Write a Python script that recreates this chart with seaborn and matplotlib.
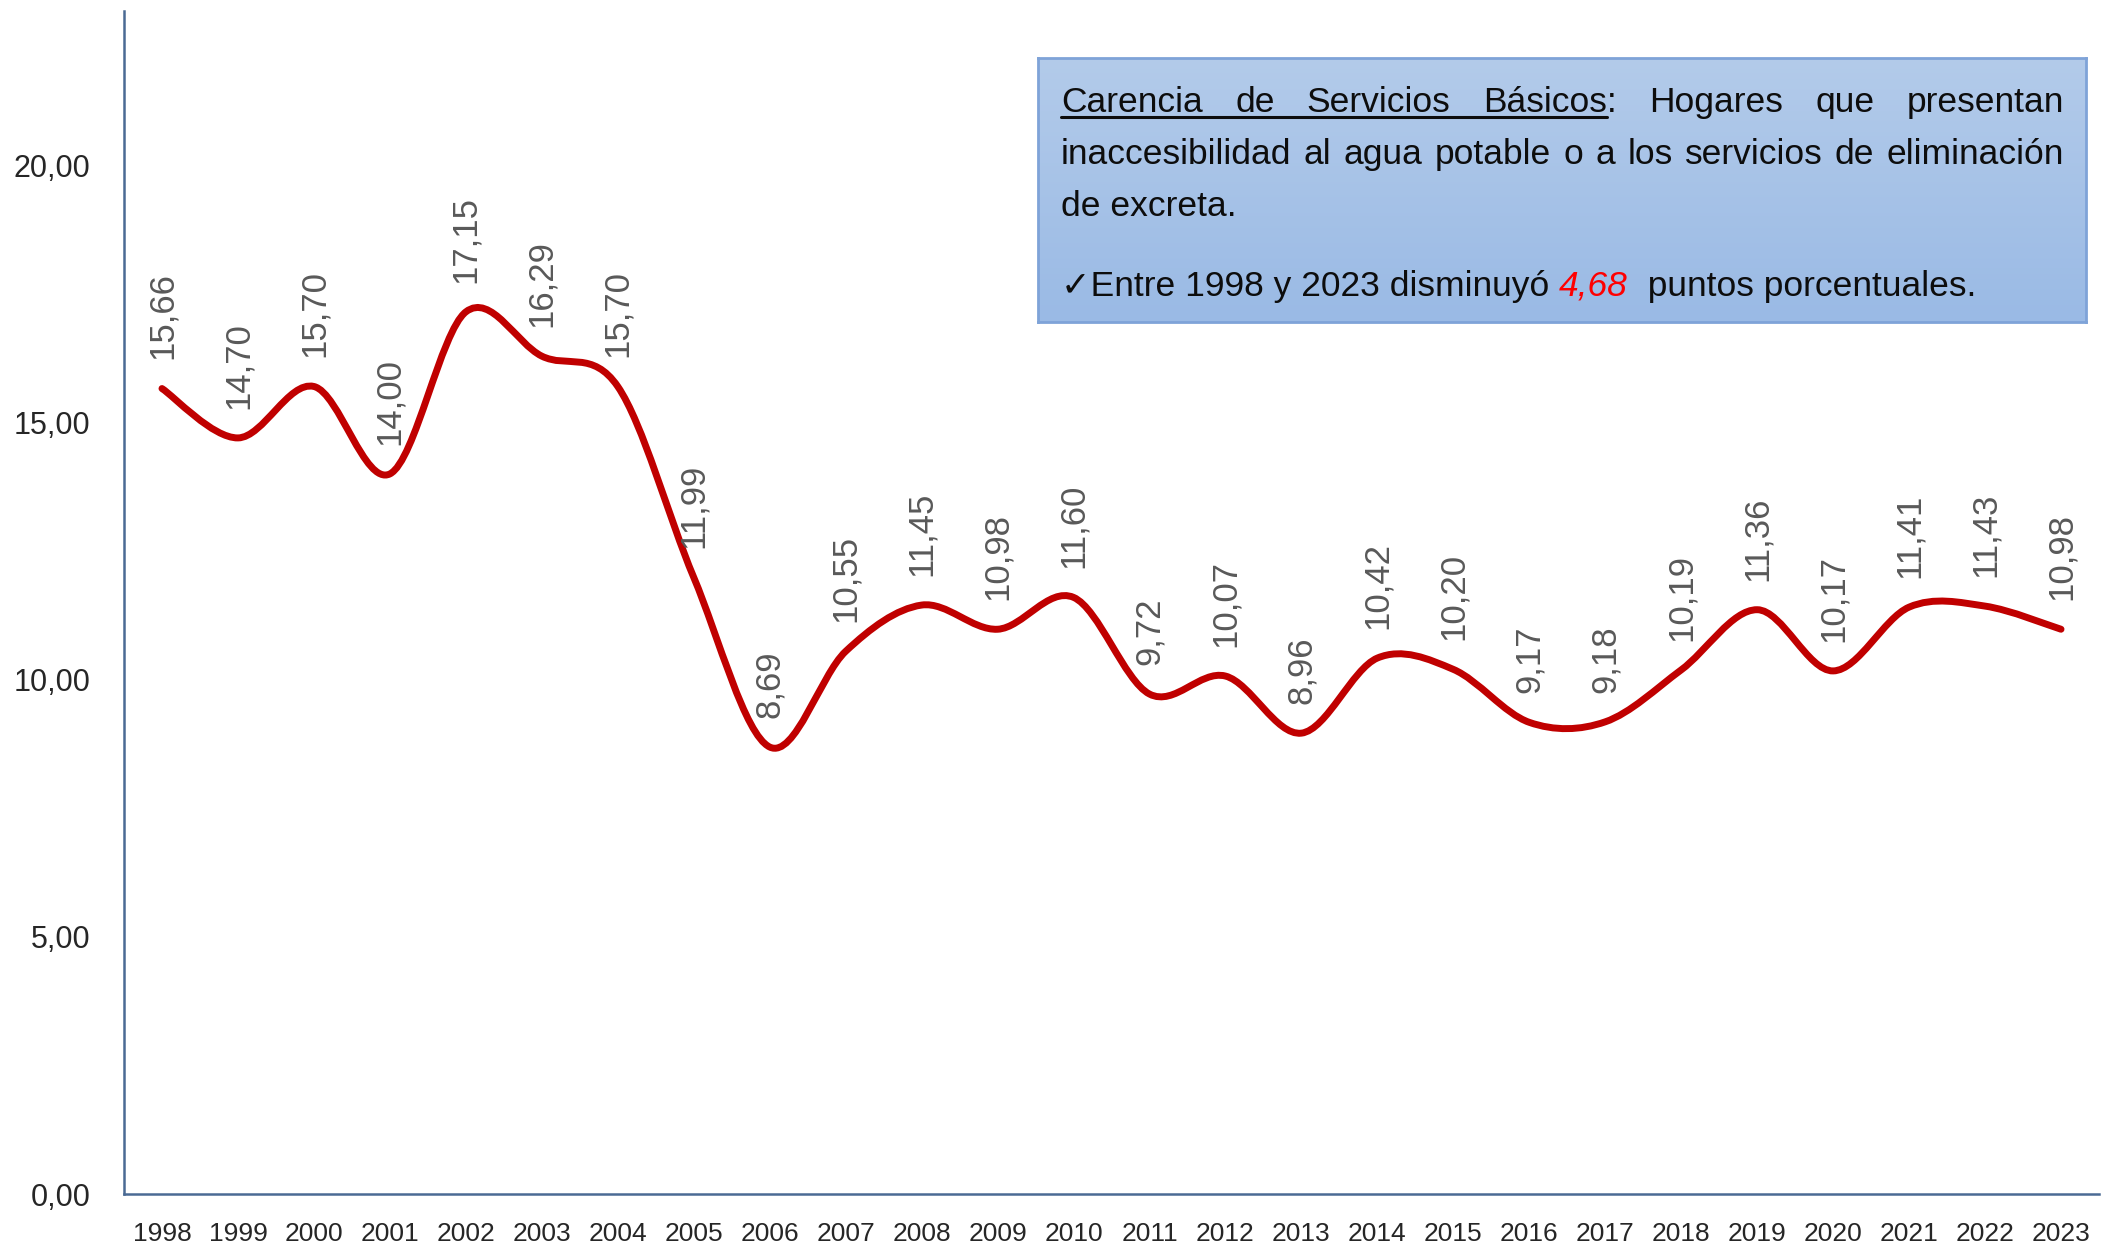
import numpy as np
import pandas as pd
import seaborn as sns
import matplotlib.pyplot as plt
from matplotlib.path import Path
from matplotlib.patches import PathPatch

years = ['1998', '1999', '2000', '2001', '2002', '2003', '2004', '2005', '2006',
         '2007', '2008', '2009', '2010', '2011', '2012', '2013', '2014', '2015',
         '2016', '2017', '2018', '2019', '2020', '2021', '2022', '2023']
values = [15.66, 14.70, 15.70, 14.00, 17.15, 16.29, 15.70, 11.99, 8.69, 10.55,
          11.45, 10.98, 11.60, 9.72, 10.07, 8.96, 10.42, 10.20, 9.17, 9.18,
          10.19, 11.36, 10.17, 11.41, 11.43, 10.98]
y_ticks = [0, 5, 10, 15, 20]
drop = '4,68'

sns.set_theme(style='white')
plt.rcParams['font.family'] = ['Liberation Sans', 'DejaVu Sans']

W, H = 2112, 1250
fig = plt.figure(figsize=(W / 100, H / 100), dpi=100)
ax = fig.add_axes([124 / W, 1 - 1194 / H, (2099 - 124) / W, (1194 - 11) / H])

df = pd.DataFrame({'year': years, 'value': values})
sns.lineplot(data=df, x='year', y='value', ax=ax, color='#C00000', linewidth=4)

# smooth the line like Excel does (bezier through each point)
line = ax.lines[0]
pts = line.get_xydata()
line.set_visible(False)
n = len(pts)
verts = [pts[0]]
codes = [Path.MOVETO]
for i in range(n - 1):
    p0 = pts[i - 1] if i > 0 else pts[i]
    p1 = pts[i]
    p2 = pts[i + 1]
    p3 = pts[i + 2] if i + 2 < n else pts[i + 1]
    verts += [p1 + (p2 - p0) / 6, p2 - (p3 - p1) / 6, p2]
    codes += [Path.CURVE4] * 3
ax.add_patch(PathPatch(Path(verts, codes), facecolor='none', edgecolor='#C00000',
                       lw=5, capstyle='round', joinstyle='round'))

for i, v in enumerate(values):
    ax.annotate(f'{v:.2f}'.replace('.', ','), (i, v), xytext=(0, 21),
                textcoords='offset points', rotation=90, ha='center', va='bottom',
                fontsize=25, color='#595959')

ax.set_xlim(-0.5, len(years) - 0.5)
ax.set_ylim(0, 23.0)
ax.set_yticks(y_ticks)
ax.set_yticklabels([f'{t:.2f}'.replace('.', ',') for t in y_ticks],
                   fontsize=22, color='#262626')
ax.set_xticks(range(len(years)))
ax.set_xticklabels(years, fontsize=19, color='#262626')
ax.tick_params(axis='y', length=0, pad=24)
ax.tick_params(axis='x', length=0, pad=20)
ax.set_xlabel('')
ax.set_ylabel('')
for side in ['top', 'right']:
    ax.spines[side].set_visible(False)
for side in ['left', 'bottom']:
    ax.spines[side].set_color('#4A6A94')
    ax.spines[side].set_linewidth(1.8)

# text box with a soft blue gradient
bx = fig.add_axes([1038 / W, 1 - 322 / H, 1048 / W, 264 / H])
top_c = np.array([179, 203, 234]) / 255
bot_c = np.array([154, 186, 229]) / 255
grad = np.linspace(0, 1, 100)[:, None, None]
img = top_c * (1 - grad) + bot_c * grad
bx.imshow(img, aspect='auto', extent=[0, 1, 0, 1])
bx.set_xticks([])
bx.set_yticks([])
for s in bx.spines.values():
    s.set_color('#7FA3D8')
    s.set_linewidth(2)

renderer = fig.canvas.get_renderer()
fs = 25.5
x_left, x_right = 1061, 2064


def place(words, base, justify=True, **kw):
    texts = [fig.text(0, 1 - base / H, w, ha='left', va='baseline', fontsize=fs,
                      color='#0D0D0D', **kw) for w in words]
    widths = [t.get_window_extent(renderer).width for t in texts]
    gap = (x_right - x_left - sum(widths)) / (len(words) - 1) if justify else 0
    x = x_left
    starts = []
    for t, w in zip(texts, widths):
        t.set_x(x / W)
        starts.append(x)
        x += w + gap
    return texts, starts, widths


line1 = ['Carencia', 'de', 'Servicios', 'Básicos:', 'Hogares', 'que', 'presentan']
t1, s1, w1 = place(line1, 112)
probe = fig.text(0, 0, 'Básicos', fontsize=fs)
ul_end = s1[3] + probe.get_window_extent(renderer).width
probe.remove()
fig.add_artist(plt.Line2D([x_left / W, ul_end / W], [1 - 117 / H, 1 - 117 / H],
                          color='#0D0D0D', lw=2.2))

place('inaccesibilidad al agua potable o a los servicios de eliminación'.split(), 164)
place(['de excreta.'], 216, justify=False)

# last line: check mark + red highlighted value
y4 = 1 - 296 / H
x = x_left
parts = [('✓Entre 1998 y 2023 disminuyó ', '#0D0D0D', 'normal'),
         (drop, '#FF0000', 'italic'),
         ('  puntos porcentuales.', '#0D0D0D', 'normal')]
for txt, col, sty in parts:
    t = fig.text(x / W, y4, txt, ha='left', va='baseline', fontsize=fs,
                 color=col, style=sty)
    x += t.get_window_extent(renderer).width

fig.savefig('out.png', dpi=100)
